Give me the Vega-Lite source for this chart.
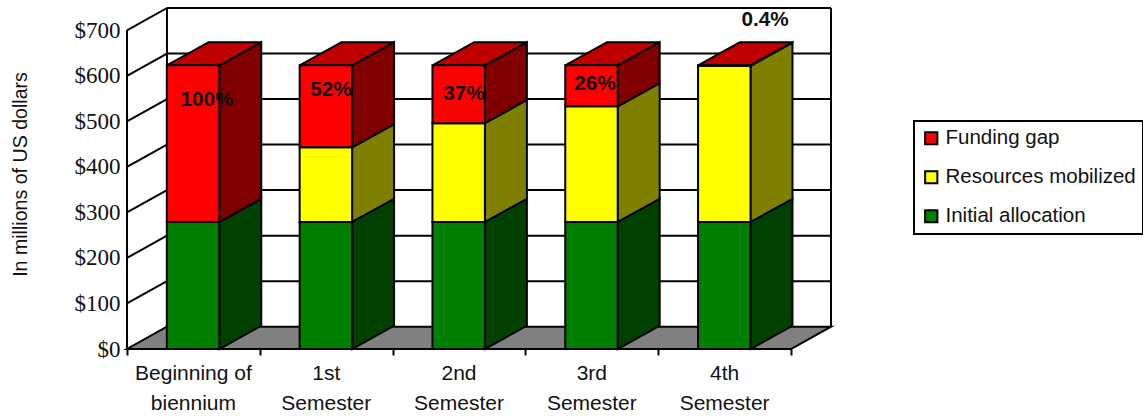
{
"$schema":"https://vega.github.io/schema/vega-lite/v6.json",
"width":704,"height":341,
"autosize":"none",
"padding":{"left":127,"top":8,"right":312,"bottom":67},
"background":"white",
"config":{"view":{"stroke":null},"font":"Liberation Sans"},
"datasets":{
"bars":[
{"semester":"Beginning of biennium","pos":0,"series":"Initial allocation","low":0,"high":279},
{"semester":"Beginning of biennium","pos":0,"series":"Funding gap","low":279,"high":623},
{"semester":"1st Semester","pos":1,"series":"Initial allocation","low":0,"high":279},
{"semester":"1st Semester","pos":1,"series":"Resources mobilized","low":279,"high":443},
{"semester":"1st Semester","pos":1,"series":"Funding gap","low":443,"high":623},
{"semester":"2nd Semester","pos":2,"series":"Initial allocation","low":0,"high":279},
{"semester":"2nd Semester","pos":2,"series":"Resources mobilized","low":279,"high":496},
{"semester":"2nd Semester","pos":2,"series":"Funding gap","low":496,"high":623},
{"semester":"3rd Semester","pos":3,"series":"Initial allocation","low":0,"high":279},
{"semester":"3rd Semester","pos":3,"series":"Resources mobilized","low":279,"high":533},
{"semester":"3rd Semester","pos":3,"series":"Funding gap","low":533,"high":623},
{"semester":"4th Semester","pos":4,"series":"Initial allocation","low":0,"high":279},
{"semester":"4th Semester","pos":4,"series":"Resources mobilized","low":279,"high":622},
{"semester":"4th Semester","pos":4,"series":"Funding gap","low":622,"high":623}
],
"levels":[{"v":0},{"v":100},{"v":200},{"v":300},{"v":400},{"v":500},{"v":600},{"v":700}],
"cats":[
{"pos":0,"label":"Beginning of\nbiennium"},
{"pos":1,"label":"1st\nSemester"},
{"pos":2,"label":"2nd\nSemester"},
{"pos":3,"label":"3rd\nSemester"},
{"pos":4,"label":"4th\nSemester"}
],
"pcts":[
{"label":"100%","along":0.602,"value":546},
{"label":"52%","along":1.536,"value":568},
{"label":"37%","along":2.538,"value":560},
{"label":"26%","along":3.524,"value":581},
{"label":"0.4%","along":4.804,"value":722}
]
},
"encoding":{
"x":{"field":"x","type":"quantitative","scale":{"domain":[0,5.301],"nice":false,"zero":false},
"axis":{"values":[0,1,2,3,4,5],"labels":false,"domain":false,"grid":false,"ticks":true,"tickSize":6,"tickColor":"black","tickWidth":2,"title":null}},
"y":{"field":"y","type":"quantitative","scale":{"domain":[0,749],"nice":false,"zero":false},
"axis":{"values":[0,100,200,300,400,500,600,700],"format":"$d","domain":false,"grid":false,"ticks":false,"labelFont":"Liberation Serif","labelFontSize":23,"labelColor":"#111","labelPadding":7,"title":"In millions of US dollars","titleFont":"Liberation Sans","titleFontSize":19.6,"titleFontWeight":"normal","titleColor":"#111","titleX":-107,"titleY":166,"titleAngle":-90,"titleAlign":"center","titleBaseline":"middle"}}
},
"layer":[
{"data":{"name":"levels"},
"transform":[{"filter":"datum.v>0"},{"calculate":"0.301","as":"x"},{"calculate":"5.301","as":"x2"},{"calculate":"datum.v+49","as":"y"},{"calculate":"datum.v+49","as":"y2"}],
"mark":{"type":"rule","color":"black","strokeWidth":2},
"encoding":{"x2":{"field":"x2"},"y2":{"field":"y2"}}},
{"data":{"name":"levels"},
"transform":[{"filter":"datum.v>0"},{"calculate":"0","as":"x"},{"calculate":"0.301","as":"x2"},{"calculate":"datum.v","as":"y"},{"calculate":"datum.v+49","as":"y2"}],
"mark":{"type":"rule","color":"black","strokeWidth":2},
"encoding":{"x2":{"field":"x2"},"y2":{"field":"y2"}}},
{"data":{"name":"levels"},
"transform":[{"filter":"datum.v==700"},{"calculate":"0","as":"x"},{"calculate":"0","as":"y"},{"calculate":"700","as":"y2"}],
"mark":{"type":"rule","color":"black","strokeWidth":2},
"encoding":{"y2":{"field":"y2"}}},
{"data":{"name":"levels"},
"transform":[{"filter":"datum.v==700"},{"calculate":"0.301","as":"x"},{"calculate":"49","as":"y"},{"calculate":"749","as":"y2"}],
"mark":{"type":"rule","color":"black","strokeWidth":2},
"encoding":{"y2":{"field":"y2"}}},
{"data":{"name":"levels"},
"transform":[{"filter":"datum.v==700"},{"calculate":"5.301","as":"x"},{"calculate":"49","as":"y"},{"calculate":"749","as":"y2"}],
"mark":{"type":"rule","color":"black","strokeWidth":2},
"encoding":{"y2":{"field":"y2"}}},
{"data":{"name":"levels"},
"transform":[{"filter":"datum.v==700"},{"calculate":"[0,1]","as":"corner"},{"flatten":["corner"]},{"calculate":"datum.corner*0.301","as":"x"},{"calculate":"5+datum.corner*0.301","as":"x2"},{"calculate":"datum.corner*49","as":"y"}],
"mark":{"type":"area","orient":"horizontal","color":"#808080","stroke":"black","strokeWidth":2},
"encoding":{"x2":{"field":"x2"}}},
{"data":{"name":"bars"},
"transform":[{"calculate":"[0,1]","as":"corner"},{"flatten":["corner"]},{"calculate":"datum.pos+0.695+datum.corner*0.316","as":"x"},{"calculate":"datum.low+datum.corner*51","as":"y"},{"calculate":"datum.high+datum.corner*51","as":"y2"}],
"mark":{"type":"area","stroke":"black","strokeWidth":2},
"encoding":{"y2":{"field":"y2"},"detail":{"field":"pos"},
"color":{"field":"series","type":"nominal","legend":null,"scale":{"domain":["Funding gap","Resources mobilized","Initial allocation"],"range":["#800000","#808000","#004000"]}}}},
{"data":{"name":"bars"},
"transform":[{"filter":"datum.series=='Funding gap'"},{"calculate":"[0,1]","as":"corner"},{"flatten":["corner"]},{"calculate":"datum.pos+0.3+datum.corner*0.316","as":"x"},{"calculate":"datum.pos+0.695+datum.corner*0.316","as":"x2"},{"calculate":"datum.high+datum.corner*51","as":"y"}],
"mark":{"type":"area","orient":"horizontal","color":"#C00000","stroke":"black","strokeWidth":2},
"encoding":{"x2":{"field":"x2"},"detail":{"field":"pos"}}},
{"data":{"name":"bars"},
"transform":[{"calculate":"datum.pos+0.3","as":"x"},{"calculate":"datum.pos+0.695","as":"x2"},{"calculate":"datum.low","as":"y"},{"calculate":"datum.high","as":"y2"}],
"mark":{"type":"rect","stroke":"black","strokeWidth":2},
"encoding":{"x2":{"field":"x2"},"y2":{"field":"y2"},
"color":{"field":"series","type":"nominal","scale":{"domain":["Funding gap","Resources mobilized","Initial allocation"],"range":["#FF0000","#FFFF00","#008000"]},
"legend":{"title":null,"orient":"none","legendX":787,"legendY":113,"padding":7,"strokeColor":"black","fillColor":"white","symbolType":"square","symbolSize":150,"symbolStrokeColor":"black","symbolStrokeWidth":2,"symbolOpacity":1,"labelFont":"Liberation Sans","labelFontSize":20.5,"labelColor":"#111","labelOffset":4,"rowPadding":18,"labelLimit":300,"encode":{"legend":{"update":{"strokeWidth":{"value":2}}}}}}}},
{"data":{"name":"levels"},
"transform":[{"filter":"datum.v==700"},{"calculate":"0","as":"x"},{"calculate":"5","as":"x2"},{"calculate":"0","as":"y"}],
"mark":{"type":"rule","color":"black","strokeWidth":2},
"encoding":{"x2":{"field":"x2"}}},
{"data":{"name":"cats"},
"transform":[{"calculate":"datum.pos+0.5","as":"x"},{"calculate":"0","as":"y"}],
"mark":{"type":"text","font":"Liberation Sans","fontSize":21,"color":"#111","baseline":"top","align":"center","dy":14,"lineBreak":"\n","lineHeight":30},
"encoding":{"text":{"field":"label"}}},
{"data":{"name":"pcts"},
"transform":[{"calculate":"datum.along","as":"x"},{"calculate":"datum.value","as":"y"}],
"mark":{"type":"text","font":"Liberation Sans","fontSize":20.7,"fontWeight":"bold","color":"#111","baseline":"middle","align":"center"},
"encoding":{"text":{"field":"label"}}}
],
"resolve":{"scale":{"color":"independent"},"legend":{"color":"independent"}}
}
